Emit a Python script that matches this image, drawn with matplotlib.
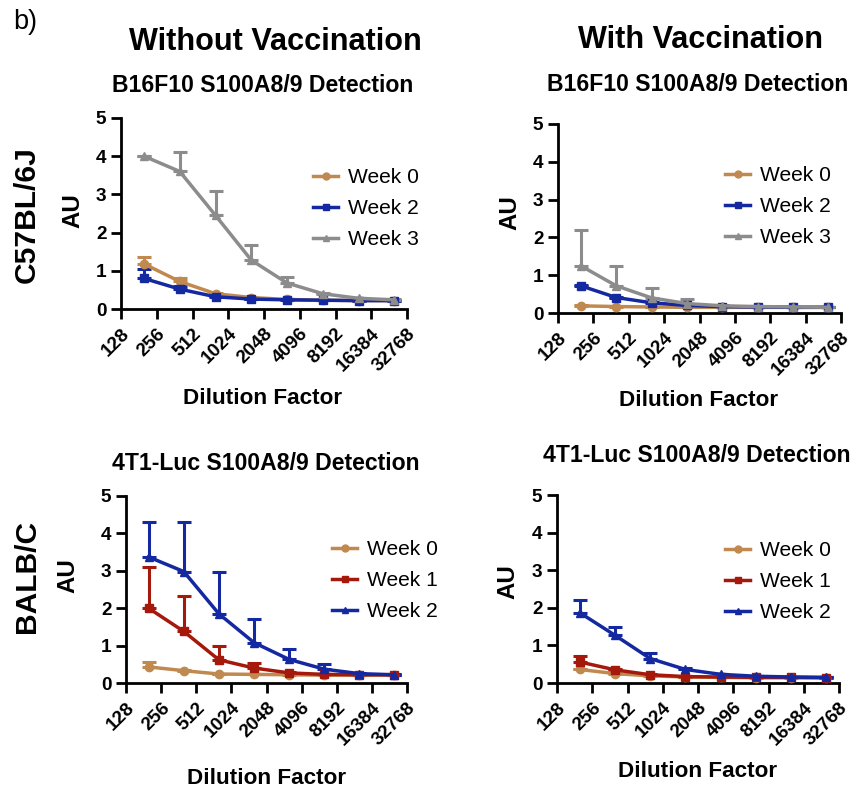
import matplotlib
matplotlib.use("Agg")
import matplotlib.pyplot as plt
from matplotlib.lines import Line2D
import numpy as np

plt.rcParams['font.family'] = ['Liberation Sans', 'DejaVu Sans']

dilutions = [200, 400, 800, 1600, 3200, 6400, 12800, 25600]
tick_vals = [128, 256, 512, 1024, 2048, 4096, 8192, 16384, 32768]
tick_labels = [str(t) for t in tick_vals]

# Top-left: B16F10, without vaccination
tl_w0 = [1.18, 0.72, 0.40, 0.30, 0.25, 0.23, 0.22, 0.22]
tl_w0_up = [1.35, 0.80, 0.42, 0.31, 0.26, 0.24, 0.23, 0.23]
tl_w2 = [0.80, 0.52, 0.32, 0.26, 0.24, 0.23, 0.22, 0.22]
tl_w2_up = [1.05, 0.60, 0.34, 0.27, 0.25, 0.24, 0.23, 0.23]
tl_w3 = [4.00, 3.60, 2.45, 1.28, 0.68, 0.40, 0.28, 0.24]
tl_w3_up = [4.00, 4.12, 3.10, 1.68, 0.85, 0.43, 0.30, 0.25]

# Top-right: B16F10, with vaccination
tr_w0 = [0.19, 0.17, 0.16, 0.15, 0.15, 0.15, 0.15, 0.15]
tr_w0_up = [0.20, 0.18, 0.17, 0.16, 0.16, 0.16, 0.16, 0.16]
tr_w2 = [0.72, 0.41, 0.27, 0.20, 0.17, 0.16, 0.15, 0.15]
tr_w2_up = [0.75, 0.43, 0.29, 0.21, 0.18, 0.17, 0.16, 0.16]
tr_w3 = [1.25, 0.72, 0.40, 0.25, 0.19, 0.17, 0.16, 0.15]
tr_w3_up = [2.20, 1.24, 0.67, 0.38, 0.21, 0.18, 0.17, 0.16]

# Bottom-left: 4T1-Luc, without vaccination
bl_w0 = [0.43, 0.33, 0.24, 0.23, 0.22, 0.21, 0.21, 0.21]
bl_w0_up = [0.55, 0.35, 0.25, 0.24, 0.23, 0.22, 0.22, 0.22]
bl_w1 = [2.00, 1.38, 0.62, 0.40, 0.27, 0.23, 0.22, 0.22]
bl_w1_up = [3.10, 2.33, 0.98, 0.53, 0.30, 0.25, 0.23, 0.23]
bl_w2 = [3.37, 2.98, 1.85, 1.08, 0.63, 0.37, 0.25, 0.22]
bl_w2_up = [4.30, 4.30, 2.98, 1.72, 0.92, 0.50, 0.27, 0.23]

# Bottom-right: 4T1-Luc, with vaccination
br_w0 = [0.36, 0.25, 0.19, 0.16, 0.15, 0.14, 0.14, 0.14]
br_w0_up = [0.38, 0.27, 0.20, 0.17, 0.16, 0.15, 0.15, 0.15]
br_w1 = [0.56, 0.35, 0.22, 0.17, 0.16, 0.15, 0.15, 0.14]
br_w1_up = [0.73, 0.38, 0.24, 0.18, 0.17, 0.16, 0.16, 0.15]
br_w2 = [1.87, 1.27, 0.65, 0.36, 0.23, 0.18, 0.16, 0.15]
br_w2_up = [2.22, 1.50, 0.80, 0.40, 0.25, 0.19, 0.17, 0.16]

TAN = '#C0894F'
BLUE = '#1428A0'
GRAY = '#8C8C8C'
RED = '#A5180C'

W, H = 856, 788
fig = plt.figure(figsize=(W / 100, H / 100), dpi=100)

def px(x, y):
    return x / W, 1 - y / H

def pt(p):
    return p * 72 / 100

def make_ax(l, t, r, b):
    ax = fig.add_axes([l / W, 1 - b / H, (r - l) / W, (b - t) / H])
    ax.set_xscale('log', base=2)
    ax.set_xlim(128, 32768)
    ax.set_ylim(0, 5)
    ax.set_xticks(tick_vals)
    ax.set_xticklabels(tick_labels, rotation=45, ha='right', rotation_mode='anchor',
                       fontsize=pt(19), fontweight='bold')
    ax.minorticks_off()
    ax.set_yticks([0, 1, 2, 3, 4, 5])
    ax.set_yticklabels(['0', '1', '2', '3', '4', '5'], fontsize=pt(19), fontweight='bold')
    for s in ['top', 'right']:
        ax.spines[s].set_visible(False)
    for s in ['left', 'bottom']:
        ax.spines[s].set_linewidth(2.0)
    ax.tick_params(axis='both', width=2.0, length=7, direction='out')
    ax.tick_params(axis='y', pad=3.5)
    ax.tick_params(axis='x', pad=4.5)
    return ax

def series(ax, vals, up, color, marker, label, ms):
    v = np.array(vals)
    u = np.array(up)
    err = np.vstack([np.zeros_like(v), u - v])
    ax.errorbar(dilutions, v, yerr=err, color=color, marker=marker, ms=ms,
                lw=2.5, elinewidth=2.2, capsize=5, capthick=2.2, label=label,
                clip_on=False, zorder=3)

def legend(ax, x, y, entries):
    handles = [Line2D([], [], color=c, marker=m, ms=5, lw=2.5) for c, m, _ in entries]
    labels = [l for _, _, l in entries]
    ax.legend(handles, labels, loc='upper left', bbox_to_anchor=px(x, y),
              bbox_transform=fig.transFigure, frameon=False,
              prop={'size': pt(21)}, handlelength=1.2, handletextpad=0.45,
              labelspacing=0.58, borderaxespad=0, borderpad=0)

# Top-left
ax1 = make_ax(121, 118, 407, 309)
series(ax1, tl_w0, tl_w0_up, TAN, 'o', 'Week 0', 6)
series(ax1, tl_w2, tl_w2_up, BLUE, 's', 'Week 2', 6)
series(ax1, tl_w3, tl_w3_up, GRAY, '^', 'Week 3', 6)
legend(ax1, 313, 168, [(TAN, 'o', 'Week 0'), (BLUE, 's', 'Week 2'), (GRAY, '^', 'Week 3')])

# Top-right
ax2 = make_ax(558, 124, 841, 313)
series(ax2, tr_w0, tr_w0_up, TAN, 'o', 'Week 0', 6)
series(ax2, tr_w2, tr_w2_up, BLUE, 's', 'Week 2', 6)
series(ax2, tr_w3, tr_w3_up, GRAY, '^', 'Week 3', 6)
legend(ax2, 725, 166, [(TAN, 'o', 'Week 0'), (BLUE, 's', 'Week 2'), (GRAY, '^', 'Week 3')])

# Bottom-left
ax3 = make_ax(126, 496, 407, 683)
series(ax3, bl_w0, bl_w0_up, TAN, 'o', 'Week 0', 6)
series(ax3, bl_w1, bl_w1_up, RED, 's', 'Week 1', 6)
series(ax3, bl_w2, bl_w2_up, BLUE, '^', 'Week 2', 6)
legend(ax3, 332, 540, [(TAN, 'o', 'Week 0'), (RED, 's', 'Week 1'), (BLUE, '^', 'Week 2')])

# Bottom-right
ax4 = make_ax(557, 495, 839, 683)
series(ax4, br_w0, br_w0_up, TAN, 'o', 'Week 0', 6)
series(ax4, br_w1, br_w1_up, RED, 's', 'Week 1', 6)
series(ax4, br_w2, br_w2_up, BLUE, '^', 'Week 2', 6)
legend(ax4, 725, 541, [(TAN, 'o', 'Week 0'), (RED, 's', 'Week 1'), (BLUE, '^', 'Week 2')])

def T(x, y, s, size, rot=0, weight='bold', ha='center', va='baseline'):
    fig.text(*px(x, y), s, fontsize=pt(size), fontweight=weight, rotation=rot,
             ha=ha, va=va)

T(13, 29, 'b)', 27, weight='normal', ha='left')
T(275, 50, 'Without Vaccination', 30.7)
T(700, 48, 'With Vaccination', 30.7)
T(263, 92, 'B16F10 S100A8/9 Detection', 23)
T(698, 91, 'B16F10 S100A8/9 Detection', 23)
T(266, 470, '4T1-Luc S100A8/9 Detection', 23)
T(697, 462, '4T1-Luc S100A8/9 Detection', 23)
T(27, 215, 'C57BL/6J', 30, rot=90, va='center')
T(27, 576, 'BALB/C', 30, rot=90, va='center')
T(73, 211, 'AU', 24, rot=90, va='center')
T(510, 213, 'AU', 24, rot=90, va='center')
T(68, 576, 'AU', 24, rot=90, va='center')
T(508, 582, 'AU', 24, rot=90, va='center')
T(263, 404, 'Dilution Factor', 22.5)
T(699, 406, 'Dilution Factor', 22.5)
T(267, 784, 'Dilution Factor', 22.5)
T(698, 777, 'Dilution Factor', 22.5)

fig.savefig('out.png', dpi=100)
